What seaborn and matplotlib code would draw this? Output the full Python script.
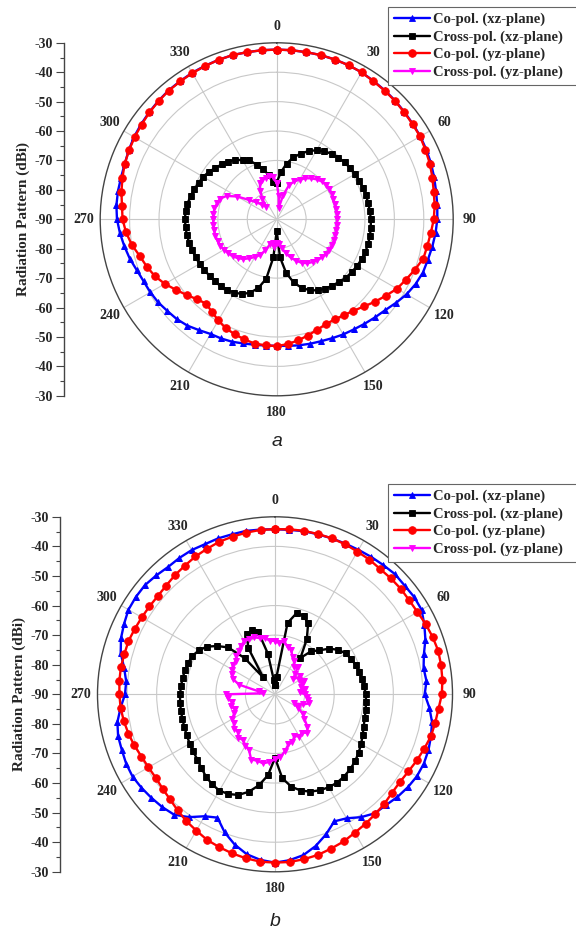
import numpy as np
import matplotlib
matplotlib.use("Agg")
import matplotlib.pyplot as plt
import seaborn as sns

# ---------------------------------------------------------------------------
# Measured radiation patterns (dBi), sampled every 5 degrees from 0 to 355
# ---------------------------------------------------------------------------
ANGLES_DEG = np.arange(0, 360, 5)

SERIES_NAMES = ["Co-pol. (xz-plane)", "Cross-pol. (xz-plane)",
                "Co-pol. (yz-plane)", "Cross-pol. (yz-plane)"]

# Panel a
CO_XZ_A = [-32.3, -32.3, -32.3, -32.2, -32.2, -32.2, -32.3, -32.6, -32.8, -33.0,
           -33.3, -33.5, -33.6, -33.9, -34.2, -34.6, -35.0, -35.2, -35.4, -35.8,
           -36.3, -36.8, -37.1, -37.9, -39.0, -40.5, -41.9, -42.8, -43.6, -44.3,
           -44.8, -45.4, -45.9, -46.2, -46.5, -46.8, -47.0, -46.9, -46.7, -46.3,
           -45.7, -45.3, -45.0, -44.0, -42.8, -42.0, -41.5, -40.8, -40.4, -40.1,
           -39.4, -38.3, -37.4, -36.5, -35.7, -35.3, -35.2, -35.2, -35.0, -34.5,
           -34.0, -33.7, -33.4, -33.1, -32.8, -32.7, -32.5, -32.4, -32.3, -32.2,
           -32.3, -32.3]
CX_XZ_A = [-77.5, -74.0, -70.8, -68.2, -66.3, -64.4, -62.9, -61.8, -60.9, -60.3,
           -59.9, -59.5, -59.2, -59.0, -58.8, -58.6, -58.4, -58.2, -58.0, -57.9,
           -57.8, -57.8, -57.9, -58.1, -58.4, -58.8, -59.2, -59.9, -60.6, -61.2,
           -62.1, -63.4, -65.2, -67.8, -71.5, -77.0, -86.0, -77.0, -69.5, -65.8,
           -63.4, -62.0, -61.2, -60.7, -60.4, -60.4, -60.2, -59.9, -59.7, -59.6,
           -59.4, -59.2, -59.0, -58.9, -58.8, -58.9, -59.2, -59.7, -60.2, -60.7,
           -61.1, -61.9, -62.8, -63.6, -64.4, -65.3, -66.8, -67.9, -70.2, -72.4,
           -74.8, -77.2]
CO_YZ_A = [-32.3, -32.3, -32.3, -32.2, -32.2, -32.2, -32.3, -32.7, -32.9, -33.1,
           -33.4, -33.6, -33.7, -34.2, -34.6, -35.2, -35.8, -36.1, -36.6, -37.4,
           -38.0, -38.4, -40.0, -41.5, -42.8, -44.7, -46.4, -48.1, -49.4, -50.2,
           -50.7, -50.6, -50.0, -49.1, -48.2, -47.4, -46.9, -47.0, -47.1, -47.7,
           -48.4, -49.1, -50.3, -51.6, -52.6, -51.6, -50.0, -48.2, -46.1, -44.3,
           -43.0, -41.8, -40.0, -38.6, -37.6, -37.2, -36.4, -35.7, -35.0, -34.6,
           -34.2, -33.9, -33.5, -33.2, -32.9, -32.8, -32.6, -32.5, -32.3, -32.2,
           -32.3, -32.3]
CX_YZ_A = [-77.5, -82.0, -86.0, -81.5, -77.5, -75.8, -74.4, -73.0, -71.8, -70.8,
           -70.0, -69.5, -69.3, -69.3, -69.5, -69.6, -69.6, -69.5, -69.5, -69.5,
           -69.5, -69.4, -69.3, -69.3, -69.4, -69.5, -69.9, -70.4, -71.0, -71.8,
           -72.9, -74.5, -76.2, -78.0, -80.2, -81.5, -82.0, -80.5, -81.8, -81.2,
           -78.8, -76.6, -75.2, -73.8, -72.4, -71.3, -70.5, -69.9, -69.3, -68.8,
           -68.6, -68.4, -68.4, -68.4, -68.4, -68.4, -68.5, -69.0, -69.5, -71.2,
           -74.5, -78.5, -81.0, -83.0, -84.5, -81.5, -78.8, -76.5, -75.8, -75.3,
           -75.2, -75.5]

# Panel b
CO_XZ_B = [-34.2, -34.2, -34.0, -34.0, -33.9, -33.8, -33.6, -33.3, -33.0, -32.6,
           -32.8, -32.6, -32.8, -34.3, -35.9, -37.9, -39.0, -38.6, -39.4, -37.6,
           -36.1, -35.4, -34.8, -34.5, -34.6, -35.2, -36.0, -37.0, -37.5, -39.3,
           -41.6, -42.6, -39.6, -36.9, -34.8, -33.7, -33.1, -33.8, -35.1, -37.4,
           -40.3, -44.0, -42.4, -39.3, -36.9, -36.1, -35.5, -34.9, -34.4, -34.5,
           -34.9, -35.1, -35.9, -37.6, -39.3, -39.5, -38.2, -36.0, -34.6, -33.7,
           -32.8, -32.6, -32.6, -33.2, -33.8, -33.7, -33.7, -34.0, -33.9, -34.0,
           -33.9, -34.1]
CX_XZ_B = [-87.0, -84.0, -65.5, -61.5, -61.8, -63.5, -68.5, -75.0, -71.0, -69.0,
           -66.0, -63.8, -62.4, -61.6, -61.0, -60.6, -60.2, -59.7, -59.3, -59.1,
           -58.9, -58.6, -58.1, -57.3, -56.4, -55.5, -54.7, -54.1, -53.7, -53.5,
           -53.7, -54.2, -55.0, -56.3, -58.3, -61.5, -68.5, -62.5, -58.8, -55.9,
           -53.8, -52.8, -52.4, -52.9, -53.7, -54.8, -55.7, -56.3, -56.7, -57.1,
           -57.4, -57.6, -57.7, -57.8, -57.9, -58.1, -58.3, -58.5, -58.8, -59.2,
           -60.3, -61.9, -64.6, -67.6, -74.0, -83.0, -72.0, -67.5, -67.0, -68.2,
           -76.0, -85.0]
CO_YZ_B = [-34.2, -34.0, -33.9, -33.9, -33.9, -34.0, -34.3, -34.4, -34.7, -34.6,
           -34.5, -34.6, -34.4, -33.8, -33.3, -32.9, -33.0, -33.2, -33.6, -34.5,
           -35.0, -35.4, -36.3, -37.1, -37.9, -38.4, -38.3, -37.7, -37.2, -36.6,
           -36.0, -35.1, -34.5, -33.8, -33.4, -33.1, -33.1, -33.2, -33.7, -34.3,
           -35.0, -35.7, -36.8, -37.7, -38.8, -39.8, -40.4, -40.8, -40.6, -40.2,
           -39.4, -38.7, -38.1, -37.6, -37.4, -37.2, -37.1, -37.3, -37.3, -37.7,
           -38.0, -38.2, -38.3, -38.0, -37.4, -36.9, -36.2, -35.7, -35.1, -34.8,
           -34.5, -34.2]
CX_YZ_B = [-72.0, -72.6, -71.8, -73.5, -74.0, -76.0, -77.0, -78.8, -78.0, -80.5,
           -82.0, -79.5, -80.5, -79.0, -80.2, -80.8, -79.8, -81.5, -80.0, -79.0,
           -78.8, -78.0, -80.0, -82.8, -81.0, -78.5, -77.0, -74.5, -73.0, -74.2,
           -73.5, -74.5, -72.8, -72.5, -70.5, -68.8, -68.0, -67.0, -66.3, -66.8,
           -66.5, -69.2, -70.0, -71.2, -70.8, -72.2, -71.8, -73.0, -73.2, -74.8,
           -75.5, -74.5, -75.2, -74.0, -73.6, -86.0, -84.5, -77.5, -74.8, -73.8,
           -73.4, -72.5, -72.6, -71.5, -71.0, -70.0, -69.2, -69.5, -69.4, -70.4,
           -70.8, -71.8]

THETA_LABELS = ["0", "30", "60", "90", "120", "150",
                "180", "210", "240", "270", "300", "330"]
SCALE_LABELS = ["-30", "-40", "-50", "-60", "-70", "-80", "-90",
                "-80", "-70", "-60", "-50", "-40", "-30"]
Y_TITLE = "Radiation Pattern (dBi)"
PANEL_TAGS = ["a", "b"]

# ---------------------------------------------------------------------------
# Styling
# ---------------------------------------------------------------------------
COLORS = ["#0000ff", "#000000", "#ff0000", "#ff00ff"]
MARKERS = ["^", "s", "o", "v"]
MSIZES = [5.0, 4.0, 5.5, 4.5]

W, H = 576, 933
DPI = 100

sns.set_theme(style="white")
plt.rcParams["font.family"] = ["Liberation Serif", "DejaVu Serif"]
plt.rcParams["axes.unicode_minus"] = False

fig = plt.figure(figsize=(W / DPI, H / DPI), dpi=DPI)
fig.patch.set_facecolor("white")


def fx(px):
    return px / W


def fy(py):
    return 1 - py / H


def draw_panel(center, radius, scale_x, series, legend_top, tag, tag_y):
    cx, cy = center
    ax = fig.add_axes([fx(cx - radius), fy(cy + radius), 2 * radius / W,
                       2 * radius / H], projection="polar")
    ax.set_facecolor("white")
    theta = np.deg2rad(np.append(ANGLES_DEG, 360))
    for name, vals, col, mk, ms in zip(SERIES_NAMES, series, COLORS,
                                       MARKERS, MSIZES):
        r = np.append(vals, vals[0])
        sns.lineplot(x=theta, y=r, ax=ax, sort=False, estimator=None,
                     color=col, marker=mk, markersize=ms, linewidth=1.7,
                     markeredgecolor=col, markeredgewidth=0.6, label=name,
                     legend=False)
    ax.set_theta_zero_location("N")
    ax.set_theta_direction(-1)
    ax.set_ylim(-90, -30)
    ax.set_yticks([-80, -70, -60, -50, -40])
    ax.set_yticklabels([])
    ax.set_xticks(np.deg2rad(np.arange(0, 360, 30)))
    ax.set_xticklabels(THETA_LABELS, fontsize=10, fontweight="bold")
    ax.set_xticks(np.deg2rad(np.arange(15, 360, 30)), minor=True)
    ax.tick_params(axis="x", which="major", pad=1, length=4, width=0.8,
                   direction="out", color="#444444")
    ax.tick_params(axis="x", which="minor", length=3, width=0.8,
                   direction="out", color="#444444")
    ax.grid(True, which="major", color="#c8c8c8", linewidth=0.8)
    ax.spines["polar"].set_edgecolor("#444444")
    ax.spines["polar"].set_linewidth(1.0)
    ax.set_xlabel("")
    ax.set_ylabel("")

    # linear dB scale alongside the polar plot
    sa = fig.add_axes([fx(scale_x), fy(cy + radius), 0.0005,
                       2 * radius / H])
    sa.set_ylim(-60, 60)
    sa.set_xlim(0, 1)
    for side in ["right", "top", "bottom"]:
        sa.spines[side].set_visible(False)
    sa.spines["left"].set_color("#444444")
    sa.spines["left"].set_linewidth(1.0)
    sa.set_xticks([])
    sa.set_yticks(np.arange(-60, 61, 10))
    sa.set_yticklabels(SCALE_LABELS, fontsize=10, fontweight="bold")
    sa.set_yticks(np.arange(-55, 60, 10), minor=True)
    sa.tick_params(axis="y", which="major", left=True, length=6, width=0.8,
                   direction="out", color="#444444", pad=2)
    sa.tick_params(axis="y", which="minor", left=True, length=3, width=0.8,
                   direction="out", color="#444444")
    sa.set_facecolor("none")
    fig.text(fx(scale_x - 41), fy(cy), Y_TITLE, rotation=90, fontsize=11,
             fontweight="bold", ha="center", va="center")

    handles, labels = ax.get_legend_handles_labels()
    leg = ax.legend(handles, labels, loc="upper left", mode="expand",
                    bbox_to_anchor=(fx(388), fy(legend_top),
                                    fx(590) - fx(388), 0),
                    bbox_transform=fig.transFigure, frameon=True,
                    fancybox=False, framealpha=1, edgecolor="#666666",
                    prop={"weight": "bold", "size": 10.5}, handlelength=2.5,
                    handletextpad=0.2, labelspacing=0.28, borderpad=0.4,
                    borderaxespad=0)
    leg.get_frame().set_linewidth(0.8)

    fig.text(fx(cx), fy(tag_y), tag, fontsize=14, style="italic",
             family=["Liberation Sans", "DejaVu Sans"], color="#222222",
             ha="center", va="center")


draw_panel((276.7, 219.3), 176.5, 64,
           [CO_XZ_A, CX_XZ_A, CO_YZ_A, CX_YZ_A], 7, PANEL_TAGS[0], 442)
draw_panel((275.0, 694.3), 177.5, 60,
           [CO_XZ_B, CX_XZ_B, CO_YZ_B, CX_YZ_B], 484, PANEL_TAGS[1], 921)

fig.savefig("out.png", dpi=DPI, facecolor="white")
